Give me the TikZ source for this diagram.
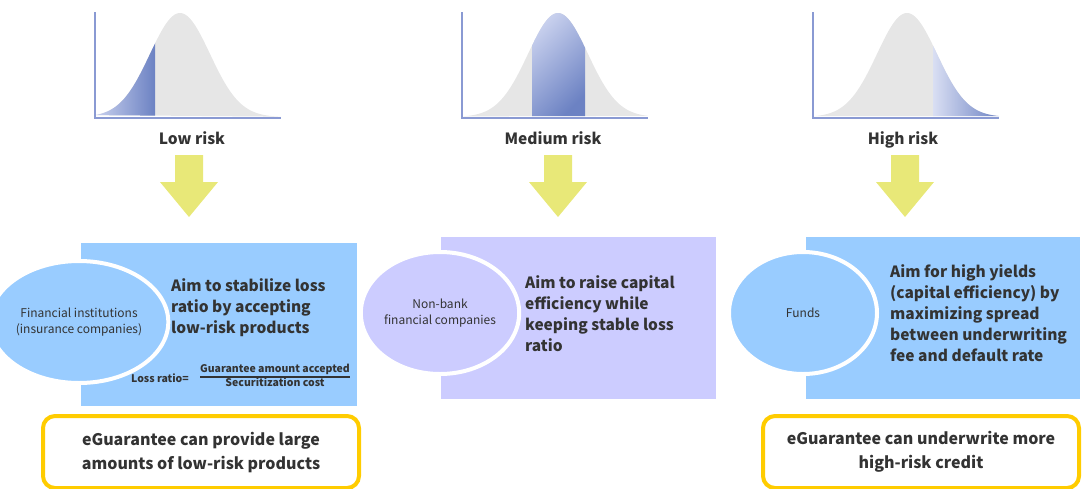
\documentclass[tikz,border=0pt]{standalone}
\usepackage{fontspec}
\setmainfont{Noto Sans CJK JP}
\usepackage{xcolor}
\usetikzlibrary{positioning,shapes.geometric}
\definecolor{panelblue}{HTML}{99CCFF}
\definecolor{panellav}{HTML}{CCCCFF}
\definecolor{arrowyel}{HTML}{E8E878}
\definecolor{goldline}{HTML}{FFCC00}
\definecolor{axisblue}{HTML}{8A9AD3}
\definecolor{tailblue}{HTML}{6C82C3}
\definecolor{taillight}{HTML}{C9D1EE}
\definecolor{curvegray}{HTML}{E6E6E6}
\definecolor{inktext}{HTML}{333333}
\newcommand{\bell}[2]{plot[domain=#1:#1+186, samples=90] (\x, {117-104*exp(-((\x-#2)/30)^2/2)})}

\begin{document}
\begin{tikzpicture}[x=1pt, y=-1pt, text=inktext,
  font=\fontsize{15.5}{21.2}\selectfont\bfseries,
  panel/.style={anchor=north west, inner sep=0, minimum height=162},
  actor/.style={ellipse, draw=white, line width=4pt, minimum width=148, minimum height=122,
    align=center, inner sep=0, font=\fontsize{12}{16}\selectfont\mdseries},
  aim/.style={anchor=north west, align=left, inner sep=0},
  risklbl/.style={anchor=base, inner sep=0, font=\fontsize{15.5}{18}\selectfont\bfseries},
  result/.style={draw=goldline, line width=4pt, rounded corners=12pt, fill=white,
    minimum width=316, minimum height=72, align=center, font=\fontsize{16}{24}\selectfont\bfseries}]
\useasboundingbox (0,0) rectangle (1084,488);

% bell curves
\fill[curvegray] \bell{95}{180} -- cycle;
\begin{scope}
  \clip \bell{95}{180} -- cycle;
  \shade[left color=taillight, right color=tailblue] (95,0) rectangle (155,118);
\end{scope}
\fill[curvegray] \bell{462}{558} -- cycle;
\begin{scope}
  \clip \bell{462}{558} -- cycle;
  \shade[left color=taillight, right color=tailblue, shading angle=45] (532,10) rectangle (585,118);
\end{scope}
\fill[curvegray] \bell{813}{907} -- cycle;
\begin{scope}
  \clip \bell{813}{907} -- cycle;
  \shade[left color=taillight!70, right color=tailblue] (933,0) rectangle (1000,118);
\end{scope}
\foreach \ax in {95,462,813}
  \draw[axisblue, line width=1.5pt] (\ax,12) -- (\ax,118) -- (\ax+186,118);

\node[risklbl] (low) at (192,144) {Low risk};
\node[risklbl] (medium) at (553,144) {Medium risk};
\node[risklbl] (high) at (903,144) {High risk};

% down arrows
\foreach \cx in {189,558,905}
  \fill[arrowyel] (\cx-14,155) -- (\cx+14,155) -- (\cx+14,182) -- (\cx+29,182)
    -- (\cx,217) -- (\cx-29,182) -- (\cx-14,182) -- cycle;

% panels
\node[panel, fill=panelblue, minimum width=276, minimum height=163] (lowpanel) at (81,243) {};
\node[panel, fill=panellav, minimum width=275] (medpanel) at (441,237) {};
\node[panel, fill=panelblue, minimum width=274] (highpanel) at (806,237) {};

\node[actor, fill=panelblue] (fin) at (79,322) {Financial institutions\\(insurance companies)};
\node[actor, fill=panellav] (nonbank) at (440,313) {Non-bank\\financial companies};
\node[actor, fill=panelblue] (funds) at (803,313) {Funds};

\node[aim] (lowaim) at (171,278) {Aim to stabilize loss\\ratio by accepting\\low-risk products};
\node[aim] (medaim) at (525,275) {Aim to raise capital\\efficiency while\\keeping stable loss\\ratio};
\node[aim] (highaim) at (890,264) {Aim for high yields\\(capital efficiency) by\\maximizing spread\\between underwriting\\fee and default rate};

\node[inner sep=0, font=\fontsize{10.5}{12}\selectfont\bfseries] (lossratio) at (160,378) {Loss ratio=};
\node[inner sep=0, font=\fontsize{10.5}{13}\selectfont\bfseries] (lossfrac) at (275,377)
  {\arrayrulewidth=1.2pt\begin{tabular}{@{}c@{}}Guarantee amount accepted\\\hline Securitization cost\end{tabular}};

% results
\node[result] (lowres) at (201,452) {eGuarantee can provide large\\amounts of low-risk products};
\node[result] (highres) at (921,452) {eGuarantee can underwrite more\\high-risk credit};
\end{tikzpicture}
\end{document}
